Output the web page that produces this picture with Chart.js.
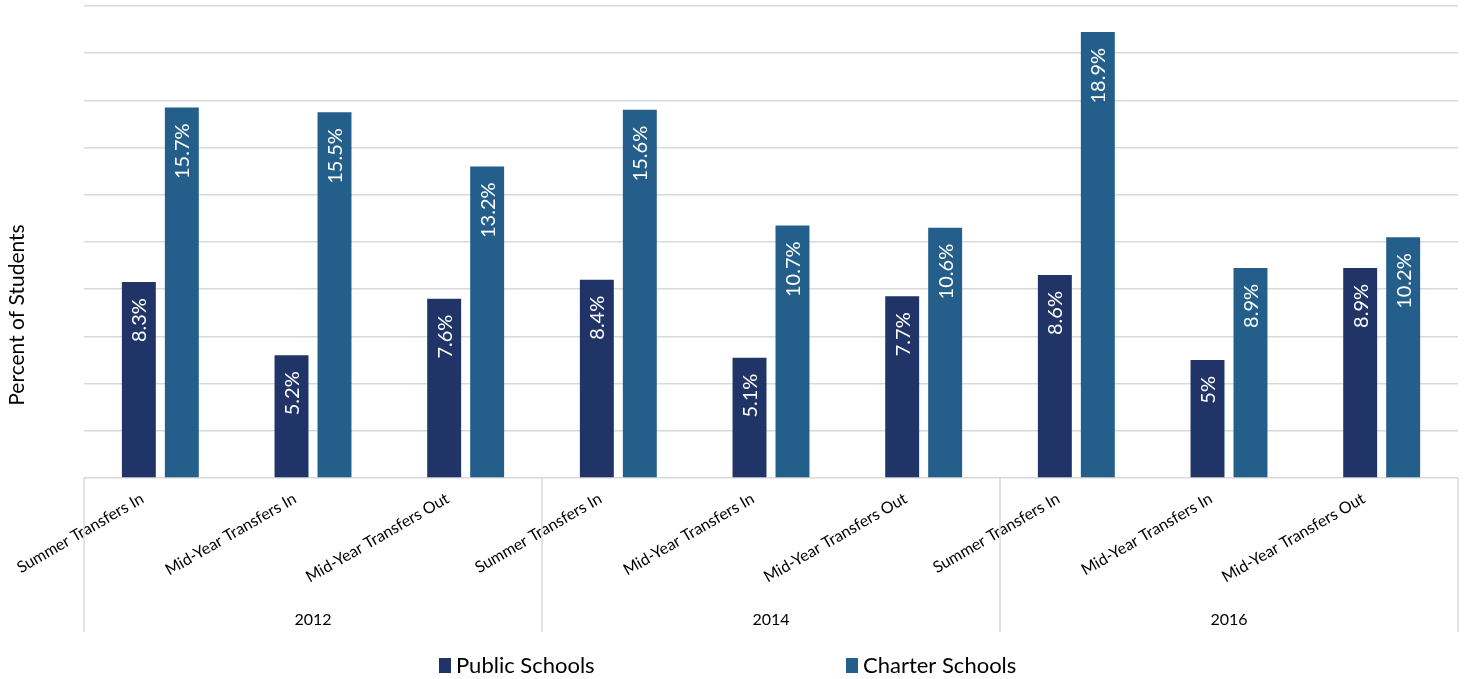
<!DOCTYPE html>
<html>
<head>
<meta charset="utf-8">
<script src="https://cdn.jsdelivr.net/npm/chart.js@4"></script>
<style>
  body { margin: 0; background: #fff; }
  #wrap { width: 1468px; height: 679px; }
</style>
</head>
<body>
<div id="wrap"><canvas id="c"></canvas></div>
<script>
// data
const years = ['2012', '2014', '2016'];
const transferTypes = ['Summer Transfers In', 'Mid-Year Transfers In', 'Mid-Year Transfers Out'];
const publicSchools = [8.3, 5.2, 7.6, 8.4, 5.1, 7.7, 8.6, 5.0, 8.9];
const charterSchools = [15.7, 15.5, 13.2, 15.6, 10.7, 10.6, 18.9, 8.9, 10.2];
const yMax = 20;
const yStep = 2;

const categories = [];
years.forEach(() => transferTypes.forEach(t => categories.push(t)));

const FONT = 'Lato, "Open Sans", sans-serif';

// white rotated value labels inside the top of each bar
const barLabels = {
  id: 'barLabels',
  afterDatasetsDraw(chart) {
    const ctx = chart.ctx;
    ctx.save();
    ctx.fillStyle = '#ffffff';
    ctx.font = '20px ' + FONT;
    ctx.textAlign = 'right';
    ctx.textBaseline = 'middle';
    chart.data.datasets.forEach((ds, i) => {
      chart.getDatasetMeta(i).data.forEach((bar, j) => {
        ctx.save();
        ctx.translate(bar.x, bar.y + 16);
        ctx.rotate(-Math.PI / 2);
        ctx.fillText(ds.data[j] + '%', 0, 1);
        ctx.restore();
      });
    });
    ctx.restore();
  }
};

// year row, group separators, y title and legend
const frame = {
  id: 'frame',
  afterDraw(chart) {
    const ctx = chart.ctx;
    const xs = chart.scales.x;
    const area = chart.chartArea;
    const n = transferTypes.length;
    const step = (area.right - area.left) / categories.length;
    ctx.save();
    ctx.strokeStyle = '#d9d9d9';
    ctx.lineWidth = 1.5;
    for (let g = 0; g <= years.length; g++) {
      const x = area.left + g * n * step;
      ctx.beginPath();
      ctx.moveTo(x, area.bottom);
      ctx.lineTo(x, xs.bottom);
      ctx.stroke();
    }
    ctx.fillStyle = '#000';
    ctx.font = '16px ' + FONT;
    ctx.textAlign = 'center';
    ctx.textBaseline = 'middle';
    years.forEach((y, g) => {
      ctx.fillText(y, area.left + (g + 0.5) * n * step, xs.bottom - 12);
    });

    // y axis title
    ctx.save();
    ctx.translate(17, 315);
    ctx.rotate(-Math.PI / 2);
    ctx.font = '21px ' + FONT;
    ctx.fillText('Percent of Students', 0, 0);
    ctx.restore();

    // legend
    const legendX = [439, 846];
    ctx.font = '22px ' + FONT;
    ctx.textAlign = 'left';
    chart.data.datasets.forEach((ds, i) => {
      ctx.fillStyle = ds.backgroundColor;
      ctx.fillRect(legendX[i], 658, 12, 15);
      ctx.fillStyle = '#000';
      ctx.fillText(ds.label, legendX[i] + 17, 666);
    });
    ctx.restore();
  }
};

new Chart(document.getElementById('c'), {
  type: 'bar',
  data: {
    labels: categories,
    datasets: [
      { label: 'Public Schools', data: publicSchools, backgroundColor: '#213468' },
      { label: 'Charter Schools', data: charterSchools, backgroundColor: '#245e8a' }
    ]
  },
  options: {
    responsive: true,
    maintainAspectRatio: false,
    animation: false,
    devicePixelRatio: 1,
    layout: { padding: { left: 84, right: 10, top: 6, bottom: 47 } },
    datasets: { bar: { categoryPercentage: 0.563, barPercentage: 0.79 } },
    plugins: {
      legend: { display: false },
      tooltip: { enabled: false }
    },
    scales: {
      x: {
        grid: { display: false },
        border: { display: false },
        ticks: {
          autoSkip: false,
          minRotation: 30,
          maxRotation: 30,
          labelOffset: -18,
          color: '#000',
          font: { family: FONT, size: 16 }
        },
        afterFit(s) { s.height = 154; }
      },
      y: {
        min: 0,
        max: yMax,
        ticks: { display: false, stepSize: yStep },
        grid: { color: '#d9d9d9', lineWidth: 1.5, drawTicks: false },
        border: { display: false },
        afterFit(s) { s.width = 0; }
      }
    }
  },
  plugins: [barLabels, frame]
});
</script>
</body>
</html>
